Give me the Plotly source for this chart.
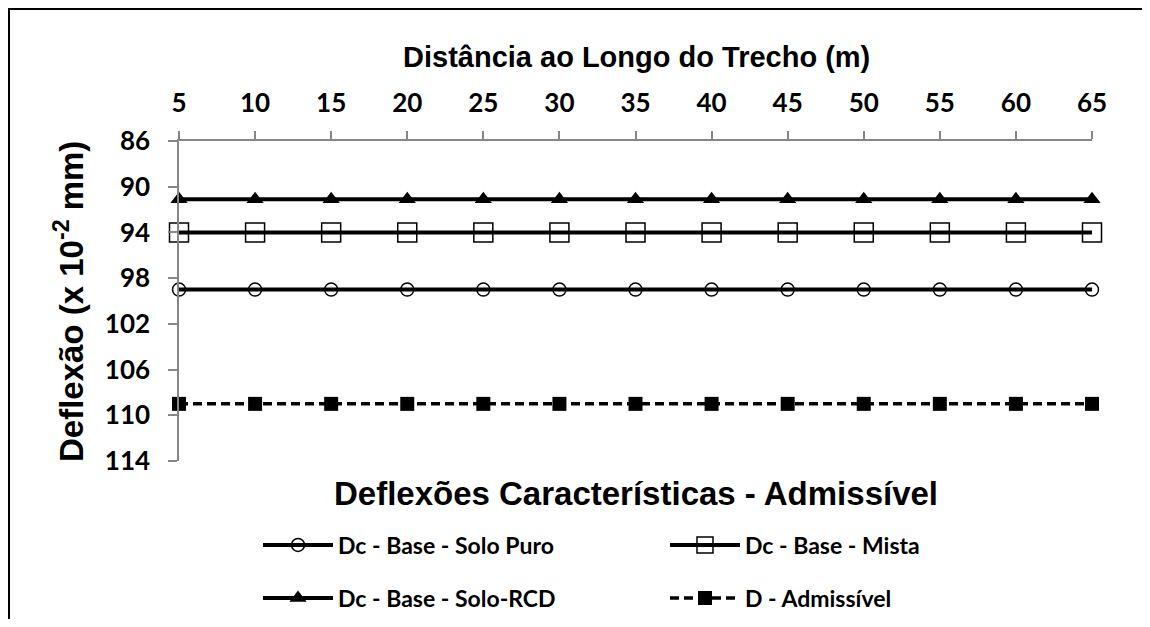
import plotly.graph_objects as go

# distance along the stretch (m)
distancia = [5, 10, 15, 20, 25, 30, 35, 40, 45, 50, 55, 60, 65]

# deflections (x 10^-2 mm)
solo_puro = [99.0] * 13
mista = [94.0] * 13
solo_rcd = [91.1] * 13
admissivel = [109.0] * 13

y_ticks = [86, 90, 94, 98, 102, 106, 110, 114]

# page body has an 8px margin, so the figure sits at (8, 8) on screen
OFF = 8
W, H = 1150 - 2 * OFF, 627 - 2 * OFF
# plot area in screen pixels
X0, X1, Y0, Y1 = 179, 1092, 141, 461
L, T = X0 - OFF, Y0 - OFF
R, B = OFF + W - X1, OFF + H - Y1
PW, PH = X1 - X0, Y1 - Y0


def px_x(px):
    return (px - X0) / PW


def px_y(py):
    return (Y1 - py) / PH


fig = go.Figure()

fig.add_trace(go.Scatter(
    x=distancia, y=solo_puro, name="<b>Dc - Base - Solo Puro</b>",
    mode="lines+markers", line=dict(color="black", width=4),
    marker=dict(symbol="circle-open", size=13, color="black", line=dict(width=1.5)),
    cliponaxis=False, legend="legend"))
fig.add_trace(go.Scatter(
    x=distancia, y=mista, name="<b>Dc - Base - Mista</b>",
    mode="lines+markers", line=dict(color="black", width=4),
    marker=dict(symbol="square-open", size=19, color="black", line=dict(width=1.5)),
    cliponaxis=False, legend="legend"))
fig.add_trace(go.Scatter(
    x=distancia, y=solo_rcd, name="<b>Dc - Base - Solo-RCD</b>",
    mode="lines+markers", line=dict(color="black", width=4),
    marker=dict(symbol="triangle-up", size=15, color="black"),
    cliponaxis=False, legend="legend2"))
fig.add_trace(go.Scatter(
    x=distancia, y=admissivel, name="<b>D - Admissível</b>",
    mode="lines+markers", line=dict(color="black", width=3.5, dash="9px,5px"),
    marker=dict(symbol="square", size=14, color="black"),
    cliponaxis=False, legend="legend2"))

legend_style = dict(
    orientation="h", xanchor="left", yanchor="middle",
    font=dict(family="Lato", size=23, color="black"),
    itemwidth=70, entrywidth=322, bgcolor="rgba(0,0,0,0)",
)

title_font = dict(family="Arial, Liberation Sans", size=29, color="black")
big_font = dict(family="Arial, Liberation Sans", size=33, color="black")

fig.update_layout(
    width=W, height=H,
    margin=dict(l=L, r=R, t=T, b=B, autoexpand=False),
    paper_bgcolor="white", plot_bgcolor="white",
    title=dict(text="<b>Deflexões Características - Admissível</b>",
               x=px_x(636), xref="paper", xanchor="center",
               y=1 - (493 - OFF) / H, yref="container", yanchor="middle",
               font=big_font),
    legend=dict(x=px_x(258), y=px_y(545), **legend_style),
    legend2=dict(x=px_x(258), y=px_y(598), **legend_style),
    xaxis=dict(range=[5, 65], side="top", tickvals=distancia,
               showline=True, linecolor="#868686", linewidth=1.5,
               ticks="outside", ticklen=8, tickcolor="#868686", tickwidth=1.5,
               ticklabelstandoff=9, showgrid=False, zeroline=False,
               tickfont=dict(family="Lato", size=26, color="black", weight="bold")),
    yaxis=dict(range=[114, 86], tickvals=y_ticks,
               showline=True, linecolor="#868686", linewidth=1.5,
               ticks="outside", ticklen=9, tickcolor="#868686", tickwidth=1.5,
               ticklabelstandoff=13, showgrid=False, zeroline=False,
               tickfont=dict(family="Lato", size=26, color="black", weight="bold")),
    annotations=[
        dict(text="<b>Distância ao Longo do Trecho (m)</b>", xref="paper", yref="paper",
             x=px_x(636), y=px_y(57), xanchor="center", yanchor="middle", showarrow=False,
             font=title_font),
        dict(text="<b>Deflexão (x 10<sup>-2</sup> mm)</b>", xref="paper", yref="paper",
             x=px_x(69), y=px_y(302), xanchor="center", yanchor="middle", showarrow=False,
             textangle=-90, font=big_font),
    ],
    # outer frame of the original image: only its top and left edges are visible
    shapes=[
        dict(type="line", xref="paper", yref="paper",
             x0=px_x(8), y0=px_y(9), x1=px_x(OFF + W), y1=px_y(9),
             line=dict(color="black", width=2), layer="below"),
        dict(type="line", xref="paper", yref="paper",
             x0=px_x(9), y0=px_y(8), x1=px_x(9), y1=px_y(OFF + H),
             line=dict(color="black", width=2), layer="below"),
    ],
)

fig.write_html("out.html")
